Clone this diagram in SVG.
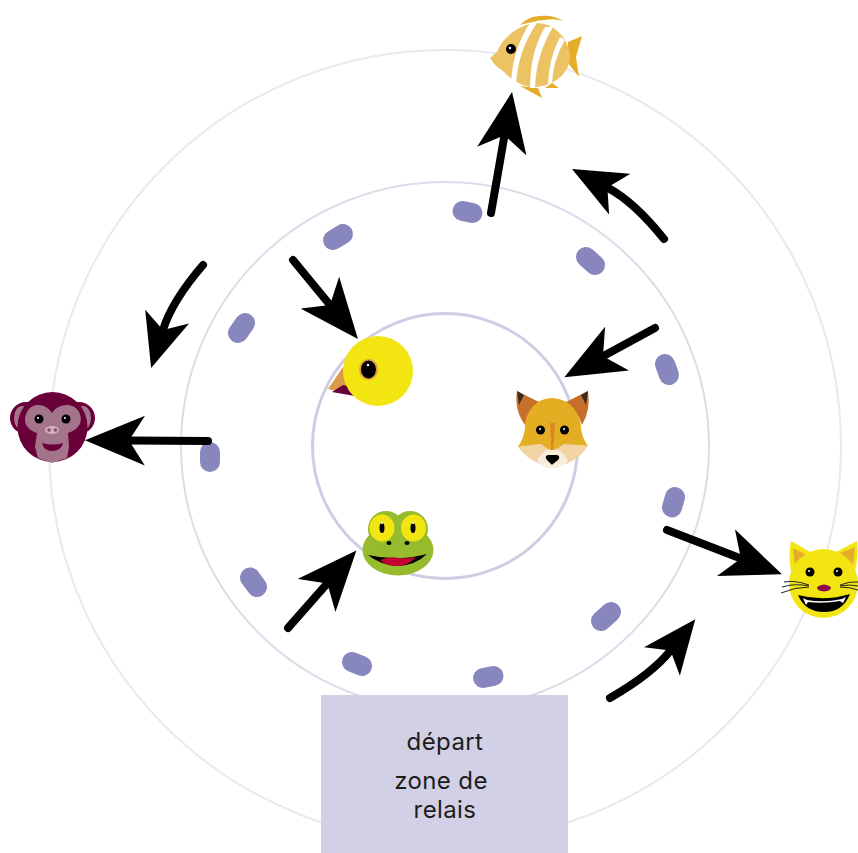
<svg xmlns="http://www.w3.org/2000/svg" width="858" height="853" viewBox="0 0 858 853">
<style>
.ring{fill:none}
.dash{fill:none;stroke:#8787bd;stroke-width:20;stroke-linecap:round}
.arrow{fill:none;stroke:#000;stroke-width:8;stroke-linecap:round;marker-end:url(#head)}
.curve{fill:none;stroke:#000;stroke-width:8;stroke-linecap:round;marker-end:url(#head-small)}
.lbl{font-family:"Inter","Noto Sans",sans-serif;font-size:24px;letter-spacing:.4px;fill:#1d1d1b;text-anchor:middle}
.eye{fill:#000}
.glint{fill:#fff}
.whisk{fill:none;stroke:#222;stroke-width:1}
</style>
<defs>
<marker id="head" markerUnits="userSpaceOnUse" markerWidth="60" markerHeight="50" refX="16" refY="25" orient="auto" viewBox="0 0 60 50"><path d="M0 0L60 25L0 50L16 25Z" fill="#000"/></marker>
<marker id="head-small" markerUnits="userSpaceOnUse" markerWidth="54" markerHeight="46" refX="14" refY="23" orient="auto" viewBox="0 0 54 46"><path d="M0 0L54 23L0 46L14 23Z" fill="#000"/></marker>
</defs>
<rect width="858" height="853" fill="#fff"/>
<g id="rings">
<circle class="ring" cx="445" cy="446" r="396" stroke="#e9e9f0" stroke-width="2"/>
<circle class="ring" cx="445" cy="446" r="264" stroke="#dddcea" stroke-width="2"/>
<circle class="ring" cx="445" cy="446" r="132.5" stroke="#cfcde4" stroke-width="3"/>
</g>
<g id="relay-marks">
<path class="dash" d="M462.500 211L472.500 213"/>
<path class="dash" d="M333 240L343 234"/>
<path class="dash" d="M238 333L245 323"/>
<path class="dash" d="M210 452L210 462"/>
<path class="dash" d="M250 577.500L257 587"/>
<path class="dash" d="M352 662L362 666"/>
<path class="dash" d="M483 678L493.500 676"/>
<path class="dash" d="M601 621L611 612"/>
<path class="dash" d="M672 507.500L675 497"/>
<path class="dash" d="M665 364L669 375"/>
<path class="dash" d="M586 257L595 265"/>
</g>
<g id="start-zone">
<rect x="321" y="695" width="247" height="158" fill="#d2d0e6"/>
<text class="lbl" x="445" y="750">départ</text>
<text class="lbl" x="441" y="789">zone de</text>
<text class="lbl" x="445" y="818">relais</text>
</g>
<g id="connectors">
<path class="arrow" d="M491 213L504.500 135.300"/>
<path class="curve" d="M664 239Q634 201.600 607.400 187.600"/>
<path class="arrow" d="M655 328L603 356.300"/>
<path class="arrow" d="M667 530L740.900 558.400"/>
<path class="curve" d="M610 698Q652 674 670.500 650.600"/>
<path class="arrow" d="M288 628L327.300 583.400"/>
<path class="arrow" d="M208 441L129 440.500"/>
<path class="curve" d="M203 265Q172 301 163 329.900"/>
<path class="arrow" d="M293 260L330 305"/>
</g>
<g id="fish">
<path d="M520 25Q526 19 533 17Q542 15 550 16Q557 17 563 21Q553 20 545 20Q538 20 533 22Q526 23 520 25Z" fill="#e4ae2b"/>
<path d="M520 86L542 98L538 88ZM545 88L559 88L552 83Z" fill="#e4ae2b"/>
<path d="M568 42L582 36L576 57L579 77L568 63Z" fill="#e4ae2b"/>
<path d="M490 58L497 52C502 38 518 25 535 23C552 22 568 36 570 55C571 72 555 86 535 87C524 88 512 80 505 73C500 68 495 66 493 62Z" fill="#ebc364"/>
<path d="M530 23L537 23Q518 50 516 85L511 83Q513 48 530 23Z" fill="#fff"/>
<path d="M545 27L553 27Q536 55 535 88L530 88Q530 52 545 27Z" fill="#fff"/>
<path d="M560 37L565 40Q553 60 552 83L548 84Q549 58 560 37Z" fill="#fff"/>
<path d="M545 20Q555 18 562 21L557 27Q548 27 545 20Z" fill="#fff"/>
<circle class="eye" cx="511" cy="49" r="5"/><circle class="glint" cx="510" cy="48" r="1.200"/>
</g>
<g id="monkey">
<circle cx="26" cy="418" r="16" fill="#6a0039"/>
<circle cx="79" cy="418" r="16" fill="#6a0039"/>
<ellipse cx="22" cy="418" rx="8" ry="12" fill="#a4758a"/>
<ellipse cx="83" cy="418" rx="8" ry="12" fill="#a4758a"/>
<circle cx="52.500" cy="427" r="35" fill="#6a0039"/>
<path d="M52 413C46 403 32 402 27 412C21 424 30 431 37 433L35 447L38 458L52 463L67 458L69 447L68 433C75 431 85 424 79 412C74 402 58 403 52 413Z" fill="#a4758a"/>
<circle class="eye" cx="39" cy="419" r="4.500"/><circle class="eye" cx="66" cy="419" r="4.500"/>
<circle class="glint" cx="38" cy="418" r="1"/><circle class="glint" cx="65" cy="418" r="1"/>
<ellipse cx="52" cy="430" rx="7" ry="4" fill="#d3b2c0"/>
<circle cx="49" cy="430" r="1.800" fill="#8a4a68"/><circle cx="55.500" cy="430" r="1.800" fill="#8a4a68"/>
<path d="M42 443Q53 446 63 443Q61 451 52 451Q44 451 42 443Z" fill="#6a0039"/>
</g>
<g id="fox">
<path d="M517 391L541 403Q528 410 525 425Q514 410 517 391Z" fill="#c8702a"/>
<path d="M588 391L564 403Q578 410 582 425Q591 410 588 391Z" fill="#c8702a"/>
<path d="M517 391L519 405L524 395Z" fill="#3a2a22"/>
<path d="M588 391L586 405L581 395Z" fill="#3a2a22"/>
<path d="M552 398C536 398 525 412 525 428Q524 438 518 447L540 445L552 456L566 445L588 446Q582 438 581 428C581 412 568 398 552 398Z" fill="#e4ae23"/>
<path d="M518 447Q535 444 541 444L552 452L540 464Q526 458 518 447Z" fill="#f1d3a4"/>
<path d="M588 446Q570 444 564 444L552 452L566 464Q580 458 588 446Z" fill="#f1d3a4"/>
<path d="M537 460Q545 447 552 450Q560 447 568 460Q562 469 552 468Q542 469 537 460Z" fill="#f8ecdd"/>
<path d="M550 423H555L554 440L553 450H551L551 440Z" fill="#d9862c"/>
<path d="M548 455H557Q561 456 558 460L553 464Q552 465 551 464L547 460Q544 456 548 455Z" fill="#000"/>
<circle class="eye" cx="540.500" cy="430" r="4.500"/><circle class="eye" cx="564.500" cy="430" r="4.500"/>
<circle class="glint" cx="540" cy="429" r="1"/><circle class="glint" cx="564" cy="429" r="1"/>
</g>
<g id="cat">
<path d="M791 541L812 553L793 578Q787 560 791 541Z" fill="#f3e511"/>
<path d="M857 541L834 553L853 578Q859 560 857 541Z" fill="#f3e511"/>
<path d="M793 548L807 555L795 567Z" fill="#e4ae2b"/>
<path d="M855 547L840 553L853 565Z" fill="#e4ae2b"/>
<circle cx="823.500" cy="583.500" r="34.500" fill="#f3e511"/>
<circle class="eye" cx="810" cy="572" r="4.500"/><circle class="eye" cx="838" cy="572" r="4.500"/>
<circle class="glint" cx="809" cy="571" r="1"/><circle class="glint" cx="837" cy="571" r="1"/>
<path d="M817 587Q824 582 831 587Q831 591 824 591.500Q817 591 817 587Z" fill="#8b0a50"/>
<path d="M798 595Q824 602 850 594Q843 612 824 612Q805 612 798 595Z" fill="#000"/>
<path d="M803 598L807 600Q824 603 842 599L846 597L843 603L840 601Q824 604 808 602L806 605Z" fill="#fff"/>
<path class="whisk" d="M809 585Q795 580 784 582M809 586Q795 583 782 587M809 587Q795 587 781 593M840 585Q850 581 858 582M840 586Q850 584 858 586M840 587Q850 587 858 590"/>
</g>
<g id="frog">
<ellipse cx="398" cy="550" rx="35.500" ry="25.500" fill="#96bb2c"/>
<circle cx="386" cy="529" r="18" fill="#96bb2c"/>
<circle cx="410" cy="529" r="18" fill="#96bb2c"/>
<ellipse cx="382" cy="528" rx="12.500" ry="13.500" fill="#f3e511"/>
<ellipse cx="413.500" cy="528" rx="12.500" ry="13.500" fill="#f3e511"/>
<ellipse class="eye" cx="382" cy="528" rx="2.500" ry="5"/><ellipse class="eye" cx="413" cy="528" rx="2.500" ry="5"/>
<circle class="glint" cx="382" cy="523" r="1"/><circle class="glint" cx="413" cy="523" r="1"/>
<ellipse class="eye" cx="389" cy="543" rx="2.500" ry="2"/><ellipse class="eye" cx="407" cy="543" rx="2.500" ry="2"/>
<path d="M368 555Q398 562 427 554Q416 565 398 566Q380 565 368 555Z" fill="#000"/>
<path d="M380 560Q390 556 398 558Q408 559 416 557Q408 566 397 566Q386 566 380 560Z" fill="#c4002f"/>
</g>
<g id="bird">
<path d="M343 367L328 389L355 396Z" fill="#dc9a48"/>
<path d="M332 392L343 385L353 387L355 396Z" fill="#6a0039"/>
<circle cx="378" cy="371" r="35" fill="#f3e511"/>
<ellipse cx="368.500" cy="369.500" rx="9.500" ry="10.500" fill="#dc9a48"/>
<ellipse class="eye" cx="368.500" cy="369.500" rx="7.500" ry="9"/>
<circle class="glint" cx="368" cy="365" r="1.200"/>
</g>
</svg>
